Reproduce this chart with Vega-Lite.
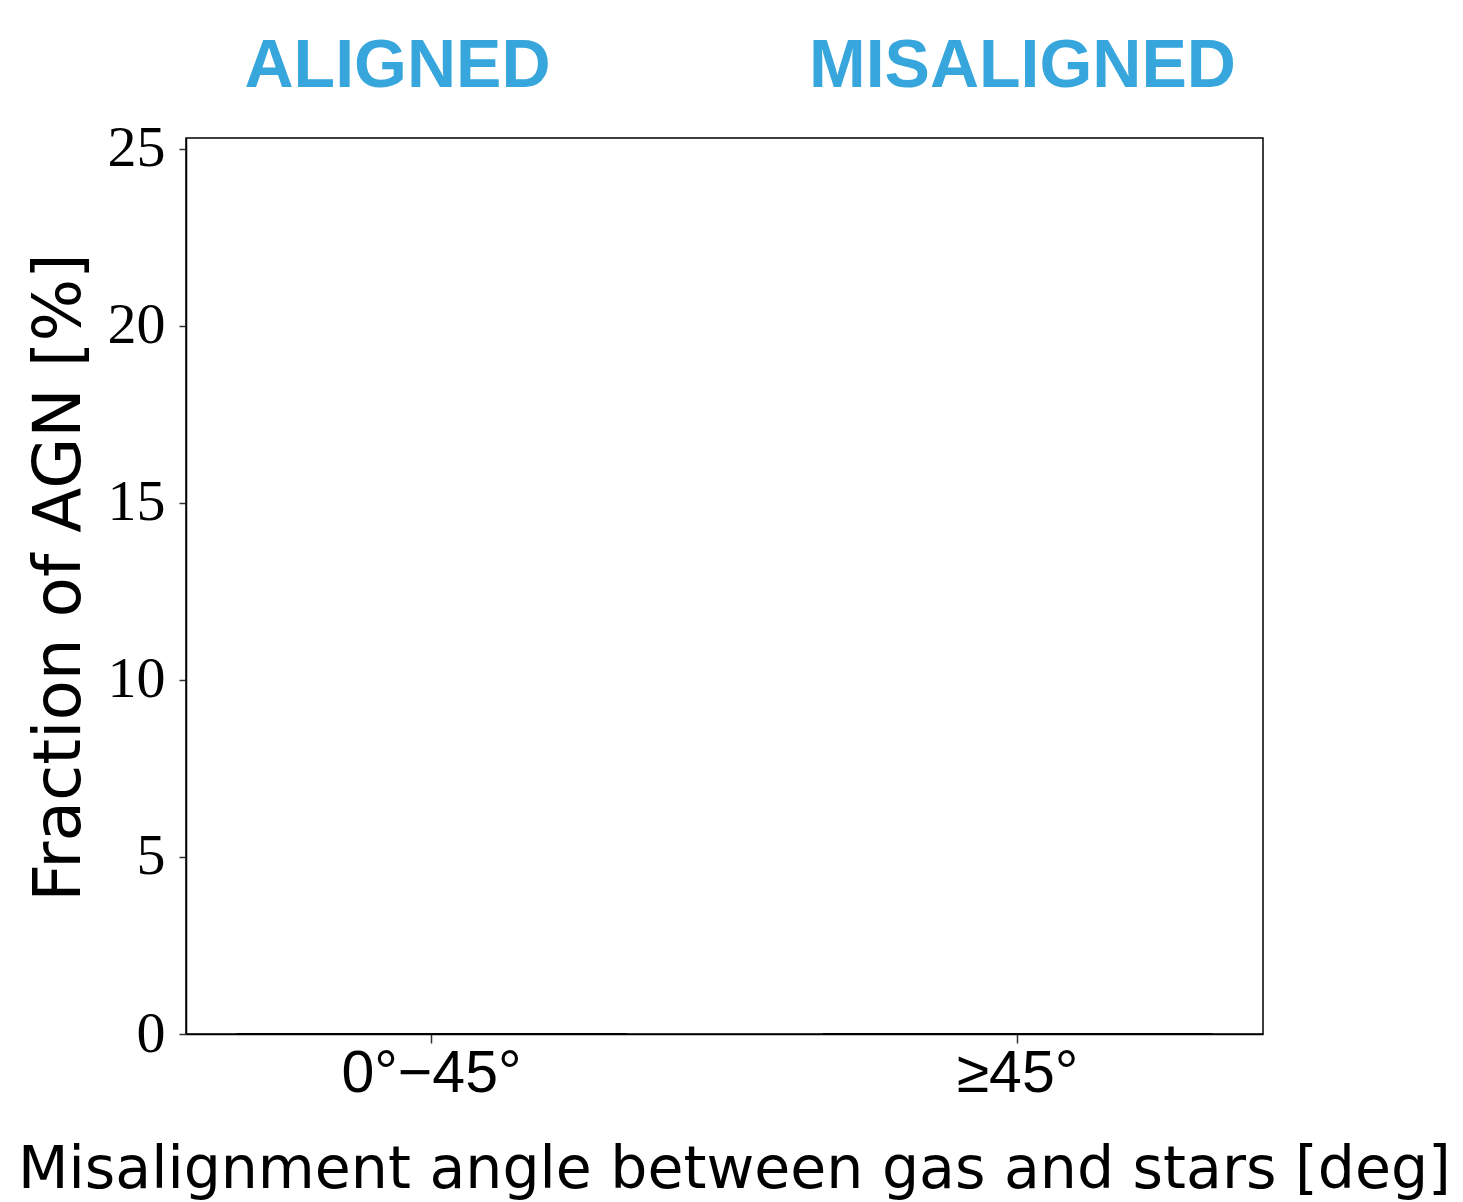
{
  "$schema": "https://vega.github.io/schema/vega-lite/v6.json",
  "width": 1077,
  "height": 896,
  "autosize": {"type": "none"},
  "padding": {"left": 186, "top": 138, "right": 200, "bottom": 168},
  "background": "white",
  "config": {"view": {"stroke": "#000", "strokeWidth": 1.5}},
  "data": {
    "values": [
      {"angle": "0°−45°", "side": "ALIGNED", "fraction": 0},
      {"angle": "≥45°", "side": "MISALIGNED", "fraction": 0}
    ]
  },
  "layer": [
    {
      "mark": {"type": "bar", "fill": "#1f77b4", "stroke": "#000", "strokeWidth": 2},
      "encoding": {
        "x": {
          "field": "angle",
          "type": "nominal",
          "sort": null,
          "scale": {"paddingInner": 0.3345, "paddingOuter": 0.0862},
          "axis": {
            "title": "Misalignment angle between gas and stars [deg]",
            "labelAngle": 0,
            "labelLimit": 0,
            "labelFont": "Liberation Sans",
            "labelFontSize": 59,
            "labelColor": "#000",
            "labelPadding": 1,
            "tickSize": 9,
            "tickColor": "#333",
            "tickWidth": 1.5,
            "domainColor": "#000",
            "domainWidth": 1.5,
            "titleFont": "DejaVu Sans",
            "titleFontSize": 58.5,
            "titleFontWeight": "normal",
            "titleColor": "#000",
            "titlePadding": 38,
            "titleX": 548
          }
        },
        "y": {
          "field": "fraction",
          "type": "quantitative",
          "scale": {"domain": [0, 25.3], "nice": false},
          "axis": {
            "title": "Fraction of AGN [%]",
            "values": [0, 5, 10, 15, 20, 25],
            "grid": false,
            "labelFont": "Liberation Serif",
            "labelFontSize": 58,
            "labelColor": "#000",
            "labelPadding": 14,
            "tickSize": 7,
            "tickColor": "#333",
            "tickWidth": 1.5,
            "domainColor": "#000",
            "domainWidth": 1.5,
            "titleFont": "DejaVu Sans",
            "titleFontSize": 66,
            "titleFontWeight": "normal",
            "titleColor": "#000",
            "titlePadding": 14,
            "titleY": 439
          }
        }
      }
    },
    {
      "mark": {"type": "bar", "opacity": 0},
      "encoding": {
        "x": {
          "field": "side",
          "type": "nominal",
          "sort": null,
          "scale": {"paddingInner": 0.3345, "paddingOuter": 0.0862},
          "axis": {
            "orient": "top",
            "title": null,
            "domain": false,
            "ticks": false,
            "labelAngle": 0,
            "labelLimit": 0,
            "labelFont": "Liberation Sans",
            "labelFontSize": 68,
            "labelFontWeight": "bold",
            "labelColor": "#36a6dc",
            "labelPadding": 52,
            "labelBaseline": "alphabetic",
            "labelOffset": {"condition": {"test": "datum.value === 'ALIGNED'", "value": -34}, "value": 5}
          }
        },
        "y": {"field": "fraction", "type": "quantitative"}
      }
    }
  ],
  "resolve": {"scale": {"x": "independent"}}
}
